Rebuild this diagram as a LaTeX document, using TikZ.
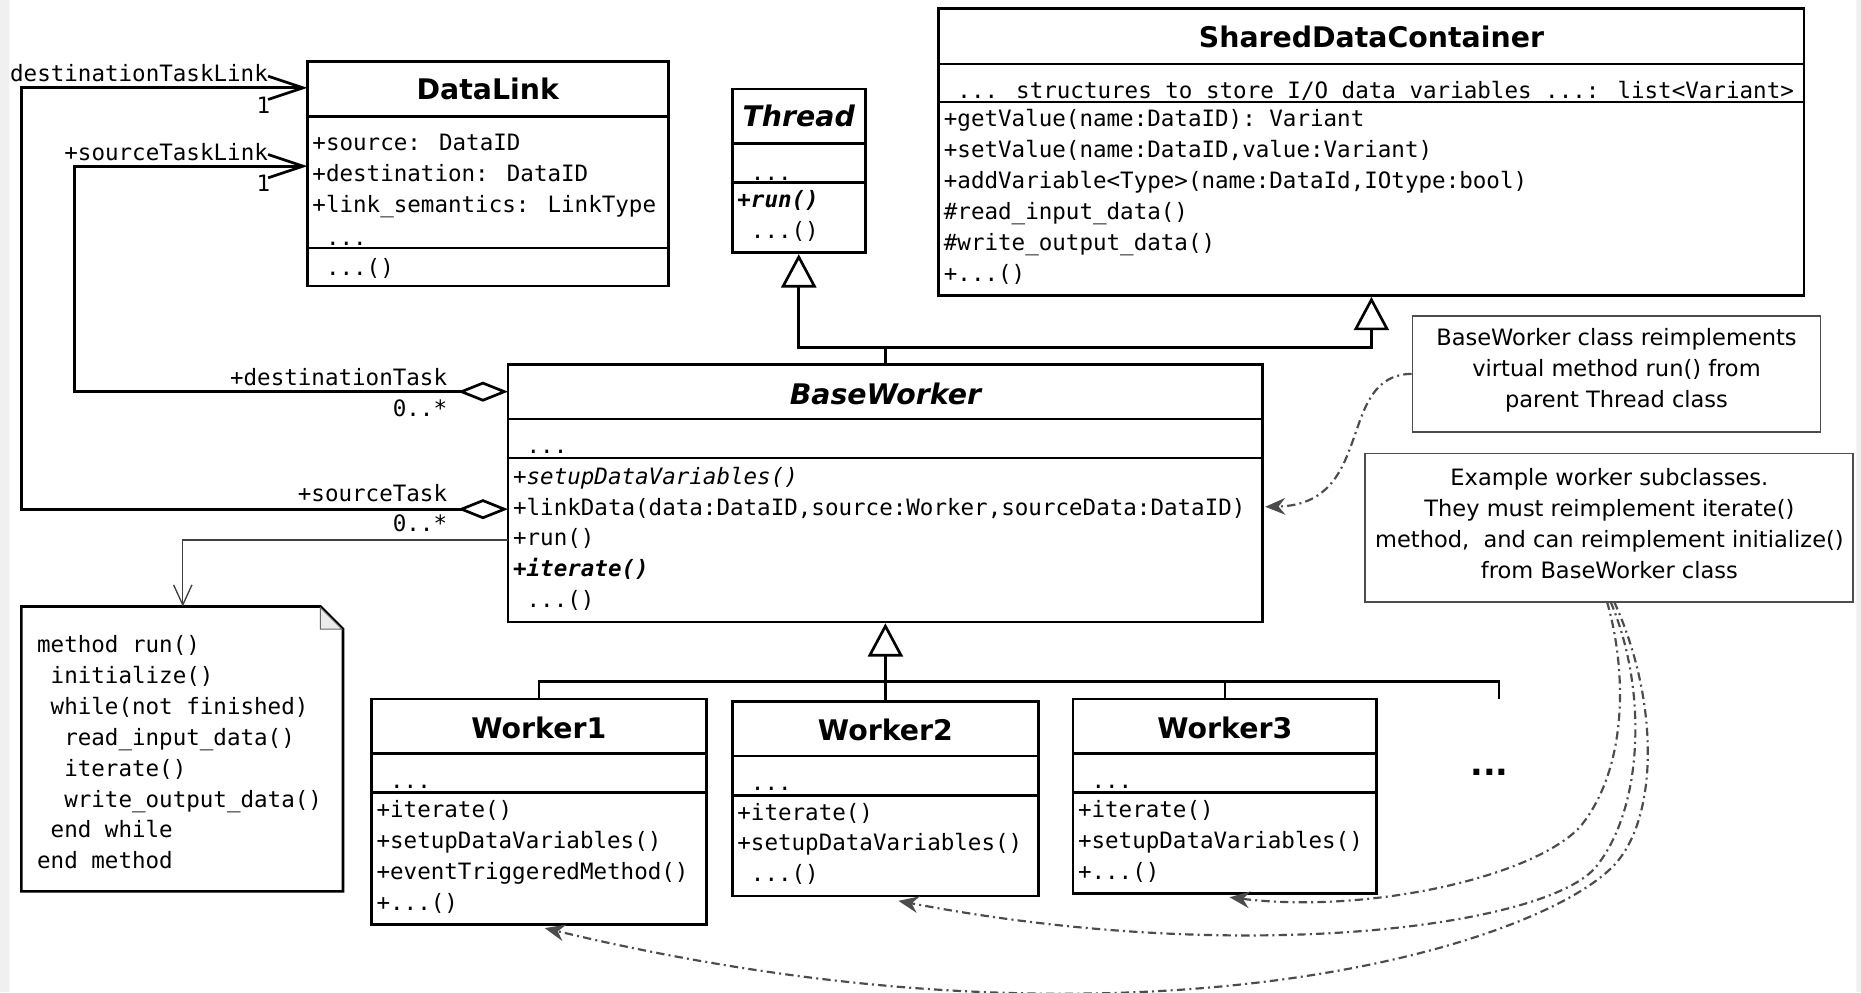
\documentclass[tikz,border=0pt]{standalone}
\usepackage{fontspec}
\setmainfont{DejaVu Sans}
\newfontfamily\umlmono{DejaVu Sans Mono}
\usetikzlibrary{arrows.meta,fit}

% one mono character of blank, for indents
\newcommand{\monosp}{\hphantom{x}}
% three dots, kept out of the way of \foreach
\newcommand{\tdots}{...}
% class frame and its two compartment rules
\newcommand{\umlclass}[7]{%
  \node[classbox, fit={(#2,#3) (#4,#5)}] (#1) {};
  \draw[classrule] (#2,#6) -- (#4,#6) (#2,#7) -- (#4,#7);
}
% lines of a compartment, 26 units apart
\newcommand{\memberlist}[4]{%
  \foreach \txt [count=\k] in {#4}
    \node[member] (#1-\k) at (#2,{#3+7+26*(\k-1)}) {\txt};%
}

\begin{document}
\begin{tikzpicture}[x=0.025cm, y=-0.025cm,
    classbox/.style={draw, line width=1.6pt, inner sep=0pt},
    classrule/.style={line width=1.6pt},
    classtitle/.style={font=\bfseries\fontsize{17}{20}\selectfont, inner sep=0pt},
    abstracttitle/.style={classtitle, font=\bfseries\itshape\fontsize{17}{20}\selectfont},
    member/.style={font=\umlmono\fontsize{13.5}{18.5}\selectfont, anchor=base west, inner sep=0pt},
    rolelabel/.style={member, anchor=base east},
    assoc/.style={line width=1.6pt, {Diamond[open, length=30pt, width=12pt]}-{Straight Barb[length=21pt, width=14pt]}},
    gen/.style={line width=1.6pt, -{Triangle[open, length=20pt, width=21pt]}},
    notebox/.style={draw=black!70, line width=1pt, inner sep=0pt},
    notetext/.style={font=\fontsize{13.5}{18.5}\selectfont, align=center, inner sep=0pt},
    noteline/.style={draw=black!70, line width=1.3pt, dash pattern=on 5pt off 2.5pt on 1.2pt off 2.5pt, -{Stealth[length=12pt, width=10pt, inset=4pt]}},
    runline/.style={draw=black!75, line width=0.8pt, -{Straight Barb[length=12pt, width=11pt]}},
  ]
  \useasboundingbox (0,0) rectangle (1568,836);
  \fill[white] (0,0) rectangle (1568,836);
  \fill[black!6] (0,0) rectangle (8,836) (1564,0) rectangle (1568,836);

  % DataLink
  \umlclass{datalink}{259}{52}{563}{241}{98}{209}
  \node[classtitle] (datalink-title) at (411,75) {DataLink};
  \memberlist{datalink-attr}{263}{120}{+source: DataID, +destination: DataID, +link\_semantics: LinkType}
  \memberlist{datalink-more}{263}{200}{\monosp\tdots}
  \memberlist{datalink-op}{263}{225}{\monosp\tdots()}

  % Thread
  \umlclass{thread}{617}{75}{729}{213}{121}{154}
  \node[abstracttitle] (thread-title) at (673,98) {Thread};
  \memberlist{thread-attr}{621}{145}{\monosp\tdots}
  \memberlist{thread-op}{621}{168}{{\bfseries\itshape +run()}, \monosp\tdots()}

  % SharedDataContainer
  \umlclass{shared}{791}{7}{1520}{249}{54}{86}
  \node[classtitle] (shared-title) at (1155.5,31) {SharedDataContainer};
  \memberlist{shared-attr}{795}{76}{\monosp\tdots{} structures to store I/O data variables \tdots: list<Variant>}
  \memberlist{shared-op}{795}{100}{+getValue(name:DataID): Variant, {+setValue(name:DataID,value:Variant)},
    {+addVariable<Type>(name:DataId,IOtype:bool)}, \#read\_input\_data(), \#write\_output\_data(), +\tdots()}

  % BaseWorker
  \umlclass{baseworker}{428}{307}{1064}{524}{353}{386}
  \node[abstracttitle] (baseworker-title) at (746,332) {BaseWorker};
  \memberlist{baseworker-attr}{432}{375}{\monosp\tdots}
  \memberlist{baseworker-op}{432}{401}{{\itshape +setupDataVariables()},
    {+linkData(data:DataID,source:Worker,sourceData:DataID)}, +run(), {\bfseries\itshape +iterate()}, \monosp\tdots()}

  % workers
  \umlclass{worker1}{313}{589}{595}{779}{635}{668}
  \node[classtitle] (worker1-title) at (454,613) {Worker1};
  \memberlist{worker1-attr}{317}{657}{\monosp\tdots}
  \memberlist{worker1-op}{317}{682}{+iterate(), +setupDataVariables(), +eventTriggeredMethod(), +\tdots()}

  \umlclass{worker2}{617}{591}{875}{755}{637}{670}
  \node[classtitle] (worker2-title) at (746,615) {Worker2};
  \memberlist{worker2-attr}{621}{659}{\monosp\tdots}
  \memberlist{worker2-op}{621}{684}{+iterate(), +setupDataVariables(), \monosp\tdots()}

  \umlclass{worker3}{904}{589}{1160}{753}{635}{668}
  \node[classtitle] (worker3-title) at (1032,613) {Worker3};
  \memberlist{worker3-attr}{908}{657}{\monosp\tdots}
  \memberlist{worker3-op}{908}{682}{+iterate(), +setupDataVariables(), +\tdots()}

  \node[font=\bfseries\fontsize{20}{24}\selectfont, inner sep=0pt] (more-workers) at (1255,651) {...};

  % pseudo code of run()
  \draw[line width=1.6pt] (18,511) -- (270,511) -- (289,530) -- (289,751) -- (18,751) -- cycle;
  \filldraw[fill=black!8, draw=black!60, line width=0.6pt] (270,512) -- (270,530) -- (288,530) -- cycle;
  \node[fit={(18,511) (289,751)}, inner sep=0pt] (code-note) {};
  \memberlist{code}{31}{543}{method run(), \monosp initialize(), \monosp while(not finished),
    \monosp\monosp read\_input\_data(), \monosp\monosp iterate(), \monosp\monosp write\_output\_data(),
    \monosp end while, end method}

  % comments
  \node[notebox, fit={(1190,266) (1534,364)}] (note-run) {};
  \node[notetext] (note-run-text) at (1362,312)
    {BaseWorker class reimplements\\virtual method run() from\\parent Thread class};
  \node[notebox, fit={(1150,382) (1561,507)}] (note-workers) {};
  \node[notetext] (note-workers-text) at (1356,441)
    {Example worker subclasses.\\They must reimplement iterate()\\method,\ \ and can reimplement initialize()\\from BaseWorker class};

  % task links
  \coordinate (dl-dst) at (259,74);
  \coordinate (dl-src) at (259,140);
  \coordinate (bw-dst) at (428,330);
  \coordinate (bw-src) at (428,429);
  \coordinate (outer-turn) at (18,74);
  \coordinate (inner-turn) at (63,140);
  \draw[assoc] (bw-src) -| (outer-turn) -- (dl-dst);
  \draw[assoc] (bw-dst) -| (inner-turn) -- (dl-src);
  \node[rolelabel] (lbl-dtl) at (226,69) {destinationTaskLink};
  \node[rolelabel] (lbl-dtl-m) at (228,95.5) {1};
  \node[rolelabel] (lbl-stl) at (226,135) {+sourceTaskLink};
  \node[rolelabel] (lbl-stl-m) at (228,161.5) {1};
  \node[rolelabel] (lbl-dt) at (377,324.5) {+destinationTask};
  \node[rolelabel] (lbl-dt-m) at (377,351) {0..*};
  \node[rolelabel] (lbl-st) at (377,422.7) {+sourceTask};
  \node[rolelabel] (lbl-st-m) at (377,448) {0..*};

  % inheritance
  \coordinate (gen-top) at (746,293);
  \draw[gen] (baseworker.north) -- (gen-top) -| (thread.south);
  \draw[gen] (gen-top) -| (shared.south);
  \coordinate (tree-mid) at (746,574);
  \coordinate (more-stub) at (1263,589);
  \draw[gen] (worker2.north) -- (baseworker.south);
  \draw[classrule] (worker1.north) |- (tree-mid) -| (more-stub);
  \draw[classrule] (worker3.north) -- (worker3.north |- tree-mid);

  % run() to its pseudo code
  \coordinate (bw-run) at (428,455);
  \coordinate (code-in) at (154,511);
  \draw[runline] (bw-run) -| (code-in);

  % comment pointers
  \coordinate (bw-note) at (1066,427);
  \draw[noteline] (note-run.west) .. controls (1125,316) and (1160,425) .. (bw-note);
  \coordinate (nw-a) at (1354,507);
  \coordinate (nw-b) at (1357,507);
  \coordinate (nw-c) at (1360,507);
  \coordinate (w3-in) at (1036,756);
  \coordinate (w2-in) at (757,759);
  \coordinate (w1-in) at (459,782);
  \draw[noteline] (nw-a) .. controls (1372,570) and (1370,650) .. (1331,697)
    .. controls (1290,740) and (1150,770) .. (w3-in);
  \draw[noteline] (nw-b) .. controls (1388,580) and (1385,680) .. (1345,730)
    .. controls (1305,780) and (1050,815) .. (w2-in);
  \draw[noteline] (nw-c) .. controls (1398,590) and (1398,690) .. (1359,730)
    .. controls (1290,800) and (950,900) .. (w1-in);
\end{tikzpicture}
\end{document}
